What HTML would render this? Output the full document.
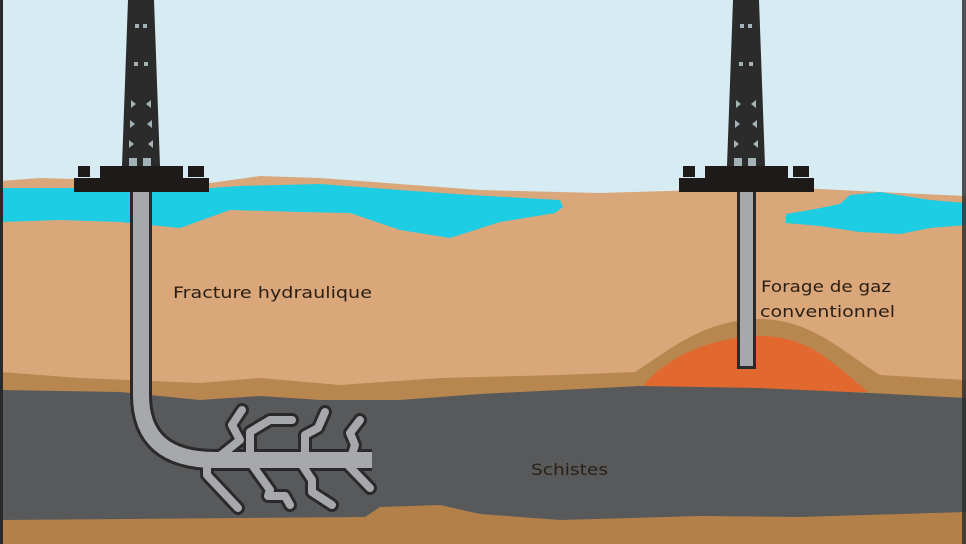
<!DOCTYPE html>
<html><head><meta charset="utf-8"><style>
html,body{margin:0;padding:0;background:#d6ebf2}
svg{display:block}
text{font-family:"DejaVu Sans","Liberation Sans",sans-serif;fill:#2a1f14}
</style></head><body>
<svg width="966" height="544" viewBox="0 0 966 544" xmlns="http://www.w3.org/2000/svg">
<rect width="966" height="544" fill="#d6ebf2"/>
<path d="M0 181 L40 178 L210 183 L260 176 L320 178 L480 190 L600 193 L700 190 L800 188 L900 193 L966 196 L966 544 L0 544 Z" fill="#daa77b"/>
<path d="M0 188 L210 188 L240 186 L320 184 L400 190 L470 195 L560 200 L563 207 L555 213 L500 222 L450 238 L400 230 L350 213 L300 212 L230 210 L180 228 L120 222 L60 220 L0 222 Z" fill="#1ccde3"/>
<path d="M786 214 L810 210 L840 204 L850 195 L880 192 L930 200 L966 203 L966 225 L930 228 L900 234 L860 232 L820 226 L786 223 Z" fill="#1ccde3"/>
<path d="M0 372 L80 378 L200 383 L260 378 L340 385 L440 378 L560 375 L635 372 C670 350 700 322 755 319 C810 318 840 350 880 375 L930 378 L966 380 L966 410 L0 410 Z" fill="#b8864f"/>
<path d="M645 384 C670 355 710 338 760 336 C810 336 835 365 868 392 L645 392 Z" fill="#e1682f"/>
<path d="M0 390 L120 392 L200 400 L260 396 L320 400 L400 400 L480 394 L560 390 L640 386 L760 388 L870 393 L966 398 L966 544 L0 544 Z" fill="#58595b"/>
<path d="M0 520 L365 517 L380 507 L440 505 L480 514 L560 520 L700 516 L800 517 L900 514 L966 512 L966 544 L0 544 Z" fill="#b3804a"/>
<rect x="0" y="0" width="3" height="544" fill="#2a2a2a"/>
<rect x="962" y="0" width="4" height="544" fill="#2a2a2a" opacity="0.8"/>

<g fill="none" stroke-linecap="round" stroke-linejoin="round">
<g stroke="#2a2a2a" stroke-width="22">
<path d="M141 190 L141 395 Q141 460 215 460 L372 460" stroke-linecap="butt"/>
</g>
<g stroke="#2a2a2a" stroke-width="14">
<path d="M215 460 L240 440 L232 425 L242 410"/>
<path d="M250 460 L250 432 L270 420 L292 420"/>
<path d="M305 460 L305 435 L318 428 L325 412"/>
<path d="M350 460 L355 445 L350 433 L360 420"/>
<path d="M207 462 L207 475 L238 508"/>
<path d="M250 462 L270 490 L268 496 L285 496 L290 505"/>
<path d="M300 462 L312 480 L312 492 L332 505"/>
<path d="M345 462 L370 488"/>
</g>
<g stroke="#a6a8ab" stroke-width="16">
<path d="M141 190 L141 395 Q141 460 215 460 L372 460" stroke-linecap="butt"/>
</g>
<g stroke="#a6a8ab" stroke-width="8">
<path d="M215 460 L240 440 L232 425 L242 410"/>
<path d="M250 460 L250 432 L270 420 L292 420"/>
<path d="M305 460 L305 435 L318 428 L325 412"/>
<path d="M350 460 L355 445 L350 433 L360 420"/>
<path d="M207 462 L207 475 L238 508"/>
<path d="M250 462 L270 490 L268 496 L285 496 L290 505"/>
<path d="M300 462 L312 480 L312 492 L332 505"/>
<path d="M345 462 L370 488"/>
</g>
</g>
<rect x="737" y="190" width="19" height="179" fill="#2a2a2a"/>
<rect x="740" y="190" width="13" height="176" fill="#a6a8ab"/>

<defs>
<g id="rig">
<polygon points="-13,0 13,0 19,166 -19,166" fill="#2b2b2b"/>
<g fill="#d6ebf2" opacity="0.7">
<rect x="-6" y="24" width="4" height="4"/><rect x="2" y="24" width="4" height="4"/>
<rect x="-7" y="62" width="4" height="4"/><rect x="3" y="62" width="4" height="4"/>
<polygon points="-10,100 -5,104 -10,108"/><polygon points="10,100 5,104 10,108"/>
<polygon points="-11,120 -6,124 -11,128"/><polygon points="11,120 6,124 11,128"/>
<polygon points="-12,140 -7,144 -12,148"/><polygon points="12,140 7,144 12,148"/>
<rect x="-12" y="158" width="8" height="8"/><rect x="2" y="158" width="8" height="8"/>
</g>
<rect x="-41" y="166" width="83" height="14" fill="#1e1a1a"/>
<rect x="-67" y="178" width="135" height="14" fill="#1e1a1a"/>
<rect x="-63" y="166" width="12" height="11" fill="#1e1a1a"/>
<rect x="47" y="166" width="16" height="11" fill="#1e1a1a"/>
</g>
</defs>
<use href="#rig" x="141" y="0"/>
<use href="#rig" x="746" y="0"/>

<text x="173" y="298" font-size="16" textLength="199" lengthAdjust="spacingAndGlyphs">Fracture hydraulique</text>
<text x="761" y="292" font-size="16" textLength="130" lengthAdjust="spacingAndGlyphs">Forage de gaz</text>
<text x="760" y="317" font-size="16" textLength="135" lengthAdjust="spacingAndGlyphs">conventionnel</text>
<text x="531" y="475" font-size="16" textLength="77" lengthAdjust="spacingAndGlyphs">Schistes</text>
</svg>
</body></html>
